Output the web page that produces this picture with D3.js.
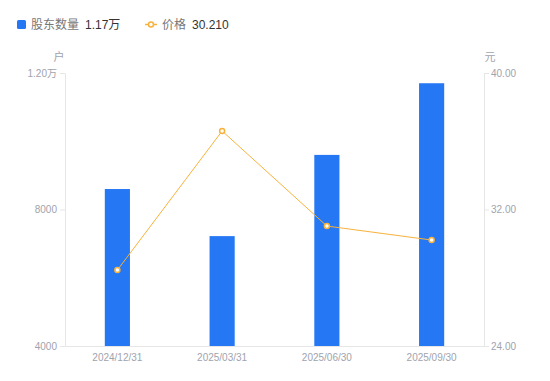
<!DOCTYPE html>
<html>
<head>
<meta charset="utf-8">
<script src="https://cdn.jsdelivr.net/npm/d3@7/dist/d3.min.js"></script>
<style>
  body { margin: 0; background: #fff; }
  #chart { width: 550px; height: 381px; }
  text { font-family: "Liberation Sans", Arial, "Noto Sans CJK SC", sans-serif; }
</style>
</head>
<body>
<div id="chart"></div>
<script>
// 数据
var dates = ['2024/12/31', '2025/03/31', '2025/06/30', '2025/09/30'];
var holders = [8600, 7220, 9600, 11700];     // 股东数量(户)
var prices = [28.45, 36.60, 31.03, 30.21];   // 价格(元)
var leftTicks = [4000, 8000, 12000];
var rightTicks = [24, 32, 40];

var width = 550, height = 381;
var margin = { top: 73, right: 66, bottom: 35, left: 65 };
var axisColor = '#e6e6e6';
var labelColor = '#a0a3ae';
var barColor = '#2677f4';
var lineColor = '#f8b23c';

var svg = d3.select('#chart').append('svg')
    .attr('width', width)
    .attr('height', height);

var x = d3.scaleBand().domain(dates).range([margin.left, width - margin.right]).padding(0);
var yL = d3.scaleLinear().domain([4000, 12000]).range([height - margin.bottom, margin.top]);
var yR = d3.scaleLinear().domain([24, 40]).range([height - margin.bottom, margin.top]);

//左轴
var leftAxis = svg.append('g')
    .attr('transform', 'translate(' + margin.left + ',0)')
    .call(d3.axisLeft(yL).tickValues(leftTicks).tickSize(5).tickSizeOuter(0).tickPadding(3)
        .tickFormat(function (d) { return d >= 10000 ? (d / 10000).toFixed(2) + '万' : d; }));
//右轴
var rightAxis = svg.append('g')
    .attr('transform', 'translate(' + (width - margin.right) + ',0)')
    .call(d3.axisRight(yR).tickValues(rightTicks).tickSize(5).tickSizeOuter(0).tickPadding(2)
        .tickFormat(d3.format('.2f')));
//底部轴
var bottomAxis = svg.append('g')
    .attr('transform', 'translate(0,' + (height - margin.bottom) + ')')
    .call(d3.axisBottom(x).tickSize(0).tickSizeOuter(0).tickPadding(8));

[leftAxis, rightAxis, bottomAxis].forEach(function (g) {
    g.select('.domain').attr('stroke', axisColor);
    g.selectAll('.tick line').attr('stroke', axisColor);
    g.selectAll('.tick text').attr('fill', labelColor).style('font-size', '10px');
});

//单位
svg.append('text').attr('x', 59).attr('y', 61).attr('text-anchor', 'middle')
    .attr('fill', labelColor).style('font-size', '11px').style('font-family', '"Noto Sans CJK SC"').text('户');
svg.append('text').attr('x', 490).attr('y', 61).attr('text-anchor', 'middle')
    .attr('fill', labelColor).style('font-size', '11px').style('font-family', '"Noto Sans CJK SC"').text('元');

//柱
var barW = x.bandwidth() * 0.24;
svg.selectAll('rect.bar')
    .data(holders)
    .enter()
    .append('rect')
    .attr('class', 'bar')
    .attr('x', function (d, i) { return x(dates[i]) + x.bandwidth() / 2 - barW / 2; })
    .attr('y', function (d) { return yL(d); })
    .attr('width', barW)
    .attr('height', function (d) { return yL(4000) - yL(d); })
    .attr('fill', barColor);

//折线
var line = d3.line()
    .x(function (d, i) { return x(dates[i]) + x.bandwidth() / 2; })
    .y(function (d) { return yR(d); });
svg.append('path')
    .datum(prices)
    .attr('d', line)
    .attr('fill', 'none')
    .attr('stroke', lineColor)
    .attr('stroke-width', 1);
svg.selectAll('circle.pt')
    .data(prices)
    .enter()
    .append('circle')
    .attr('class', 'pt')
    .attr('cx', function (d, i) { return x(dates[i]) + x.bandwidth() / 2; })
    .attr('cy', function (d) { return yR(d); })
    .attr('r', 2.5)
    .attr('fill', '#fff')
    .attr('stroke', lineColor)
    .attr('stroke-width', 1.5);

//图例
var lg = svg.append('g');
lg.append('rect').attr('x', 17).attr('y', 20).attr('width', 9).attr('height', 9).attr('rx', 1.5).attr('fill', barColor);
lg.append('text').attr('x', 31).attr('y', 29).attr('fill', '#777').style('font-size', '12px')
    .style('font-family', '"Noto Sans CJK SC"').text('股东数量');
lg.append('text').attr('x', 85).attr('y', 29).attr('fill', '#333').style('font-size', '12px')
    .text((holders[holders.length - 1] / 10000).toFixed(2) + '万');
lg.append('line').attr('x1', 145).attr('x2', 157).attr('y1', 24.5).attr('y2', 24.5)
    .attr('stroke', lineColor).attr('stroke-width', 1.5);
lg.append('circle').attr('cx', 151).attr('cy', 24.5).attr('r', 2.5).attr('fill', '#fff')
    .attr('stroke', lineColor).attr('stroke-width', 1.5);
lg.append('text').attr('x', 162).attr('y', 29).attr('fill', '#777').style('font-size', '12px')
    .style('font-family', '"Noto Sans CJK SC"').text('价格');
lg.append('text').attr('x', 192).attr('y', 29).attr('fill', '#333').style('font-size', '12px')
    .text(prices[prices.length - 1].toFixed(3));
</script>
</body>
</html>
